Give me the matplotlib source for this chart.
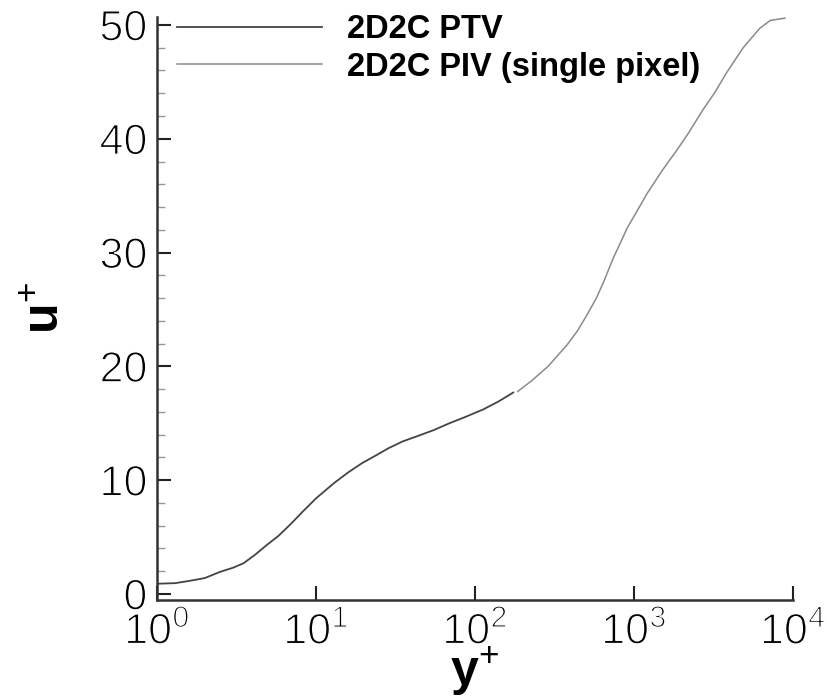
import matplotlib
matplotlib.use("Agg")
import matplotlib.pyplot as plt
import matplotlib.patheffects as pe
from matplotlib.ticker import FixedLocator, FixedFormatter, LogLocator, MultipleLocator, NullFormatter

# Mean velocity profile in wall units
ptv_yplus = [1.0, 1.3, 1.6, 2.0, 2.5, 3.0, 3.5, 4.1, 5.0, 5.8, 7.0, 8.2, 10, 13,
             16, 19.5, 24, 28.5, 35, 45, 55, 69, 85, 112, 140, 174]
ptv_uplus = [0.9, 0.95, 1.15, 1.4, 1.95, 2.3, 2.7, 3.4, 4.4, 5.1, 6.2, 7.2, 8.4, 9.75,
             10.7, 11.5, 12.2, 12.8, 13.4, 13.95, 14.4, 15.0, 15.5, 16.2, 16.9, 17.7]

piv_yplus = [186, 230, 288, 380, 440, 505, 580, 643, 740, 910, 1070, 1210, 1520,
             1860, 2200, 2700, 3200, 3820, 4860, 6170, 7200, 8900]
piv_uplus = [17.8, 18.8, 20.0, 21.9, 23.1, 24.5, 26.0, 27.4, 29.5, 32.2, 33.9, 35.2,
             37.3, 39.0, 40.5, 42.5, 44.0, 45.8, 48.0, 49.7, 50.4, 50.6]

x_ticks = [1, 10, 100, 1000, 10000]
x_tick_labels = [r"$10^{0}$", r"$10^{1}$", r"$10^{2}$", r"$10^{3}$", r"$10^{4}$"]
y_ticks = [0, 10, 20, 30, 40, 50]

series_labels = ["2D2C PTV", "2D2C PIV (single pixel)"]

plt.rcParams["mathtext.fontset"] = "custom"
plt.rcParams["mathtext.rm"] = "Liberation Sans"
plt.rcParams["mathtext.bf"] = "Liberation Sans:bold"
plt.rcParams["font.family"] = ["Liberation Sans", "DejaVu Sans"]

W, H = 827, 697
fig = plt.figure(figsize=(W / 100, H / 100), dpi=100)
ax = fig.add_axes([157 / W, 1 - 600 / H, (793 - 157) / W, (600 - 17) / H])

ax.plot(ptv_yplus, ptv_uplus, color="#444444", lw=1.3, label=series_labels[0])
ax.plot(piv_yplus, piv_uplus, color="#8a8a8a", lw=1.1, label=series_labels[1])

ax.set_xscale("log")
ax.set_xlim(1, 1e4)
ax.set_ylim(-0.53, 50.7)

ax.xaxis.set_major_locator(FixedLocator(x_ticks))
ax.xaxis.set_major_formatter(FixedFormatter(x_tick_labels))
ax.xaxis.set_minor_locator(LogLocator(base=10, subs=range(2, 10)))
ax.xaxis.set_minor_formatter(NullFormatter())
ax.yaxis.set_major_locator(FixedLocator(y_ticks))
ax.yaxis.set_minor_locator(MultipleLocator(2))

for side in ("top", "right"):
    ax.spines[side].set_visible(False)
for side in ("left", "bottom"):
    ax.spines[side].set_linewidth(1.8)
    ax.spines[side].set_color("#333333")

ax.tick_params(which="major", direction="in", length=10, width=1.5, color="#222222",
               labelsize=31, labelcolor="#000000")
ax.tick_params(axis="y", which="major", pad=7)
ax.tick_params(axis="x", which="major", pad=9)
ax.tick_params(which="minor", direction="in", length=6, width=1.0, color="#999999")

# thin, light strokes for the numeric tick labels
thin = [pe.Stroke(linewidth=1.0, foreground="white")]
for lab in ax.get_xticklabels() + ax.get_yticklabels():
    lab.set_path_effects(thin)

ax.set_xlabel(r"$\mathbf{y}^{+}$", fontsize=36, labelpad=-6)
ax.set_ylabel(r"$\mathbf{u}^{+}$", fontsize=36, labelpad=22)

leg = ax.legend(loc="upper left", bbox_to_anchor=(177 / W, 1 - 14 / H),
                bbox_transform=fig.transFigure, frameon=False,
                prop={"family": "Liberation Sans", "weight": "bold", "size": 23.5},
                handlelength=4.45, handletextpad=0.77, labelspacing=0.2,
                borderpad=0, borderaxespad=0)

fig.savefig("out.png", dpi=100)
